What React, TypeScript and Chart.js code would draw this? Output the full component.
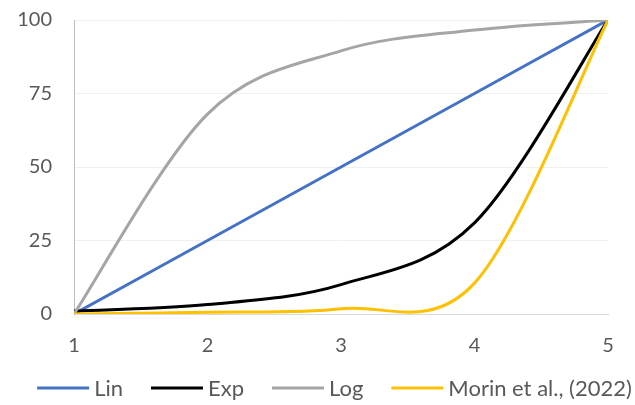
import React, { useEffect, useRef } from "react";
import { Chart, registerables } from "chart.js";

Chart.register(...registerables);

const xValues = [1, 2, 3, 4, 5];
const linValues = [0, 25, 50, 75, 100];
const expValues = [1, 3.2, 10, 31, 100];
const logValues = [0, 68, 89.5, 96.6, 100];
const morinValues = [0, 0.6, 1.8, 10.5, 100];

const seriesNames = ["Lin", "Exp", "Log", "Morin et al., (2022)"];
const seriesColors = ["#4472C4", "#000000", "#A5A5A5", "#FFC000"];
const yTicks = [0, 25, 50, 75, 100];

const FONT = "Lato, 'Open Sans', sans-serif";
const TEXT_COLOR = "#595959";

// Excel-like smoothing (Catmull-Rom Bezier control points in pixel space)
const smoothPlugin = {
  id: "excelSmooth",
  beforeDatasetDraw(chart: any, args: any) {
    const meta = args.meta;
    const pts = meta.data;
    const n = pts.length;
    for (let i = 0; i < n; i++) {
      const p = pts[i];
      const prev = pts[Math.max(0, i - 1)];
      const next = pts[Math.min(n - 1, i + 1)];
      const tx = (next.x - prev.x) / 6;
      const ty = (next.y - prev.y) / 6;
      p.cp1x = p.x - tx;
      p.cp1y = p.y - ty;
      p.cp2x = p.x + tx;
      p.cp2y = p.y + ty;
    }
    if (meta.dataset) meta.dataset._pointsUpdated = true;
  },
};

// Legend drawn in the Excel style: long line sample, text, wide gaps
const legendPlugin = {
  id: "excelLegend",
  afterDraw(chart: any) {
    const ctx = chart.ctx;
    const fontSize = 22;
    const lineLen = 52;
    const textGap = 5;
    const itemGap = 28;
    ctx.save();
    ctx.font = `${fontSize}px ${FONT}`;
    ctx.textBaseline = "middle";
    ctx.textAlign = "left";
    const widths = seriesNames.map((t) => ctx.measureText(t).width);
    const total =
      widths.reduce((a, b) => a + b, 0) +
      seriesNames.length * (lineLen + textGap) +
      (seriesNames.length - 1) * itemGap;
    const center = (chart.chartArea.left + chart.width) / 2 - 20;
    let x = center - total / 2;
    const y = chart.height - 17;
    seriesNames.forEach((name, i) => {
      ctx.strokeStyle = seriesColors[i];
      ctx.lineWidth = 3;
      ctx.beginPath();
      ctx.moveTo(x, y);
      ctx.lineTo(x + lineLen, y);
      ctx.stroke();
      x += lineLen + textGap;
      ctx.fillStyle = TEXT_COLOR;
      ctx.fillText(name, x, y + 1);
      x += widths[i] + itemGap;
    });
    ctx.restore();
  },
};

export default function App() {
  const ref = useRef<HTMLCanvasElement | null>(null);

  useEffect(() => {
    document.body.style.margin = "0";
    const ctx = ref.current;
    if (!ctx) return;
    const all = [linValues, expValues, logValues, morinValues];
    const datasets = all.map((vals, i) => ({
      label: seriesNames[i],
      data: vals.map((v, j) => ({ x: xValues[j], y: v })),
      borderColor: seriesColors[i],
      backgroundColor: seriesColors[i],
      borderWidth: 3,
      pointRadius: 0,
      tension: 0.4,
      fill: false,
      order: 4 - i,
    }));
    const chart = new Chart(ctx, {
      type: "line",
      data: { datasets },
      plugins: [smoothPlugin, legendPlugin],
      options: {
        animation: false,
        responsive: false,
        maintainAspectRatio: false,
        devicePixelRatio: 1,
        layout: { padding: { left: 0, right: 27, top: 20, bottom: 45 } },
        plugins: {
          tooltip: { enabled: false },
          legend: { display: false },
        },
        scales: {
          x: {
            type: "linear",
            min: 1,
            max: 5,
            grid: { display: false, drawTicks: false },
            border: { display: true, color: "#d9d9d9", width: 1 },
            ticks: {
              stepSize: 1,
              padding: 20,
              color: TEXT_COLOR,
              font: { family: FONT, size: 20 },
            },
            afterFit: (s: any) => {
              s.height = 46;
              s.paddingLeft = 0;
              s.paddingRight = 0;
            },
          },
          y: {
            type: "linear",
            min: 0,
            max: 100,
            grid: { color: "#f0f0f0", drawTicks: false },
            border: { display: true, color: "#bfbfbf", width: 1 },
            afterBuildTicks: (s: any) => {
              s.ticks = yTicks.map((v) => ({ value: v }));
            },
            ticks: {
              padding: 22,
              color: TEXT_COLOR,
              font: { family: FONT, size: 20 },
            },
            afterFit: (s: any) => {
              s.width = 74;
              s.paddingTop = 0;
              s.paddingBottom = 0;
            },
          },
        },
      },
    });
    return () => chart.destroy();
  }, []);

  return (
    <div style={{ position: "fixed", left: 0, top: 0, width: 635, height: 405, background: "#fff" }}>
      <canvas ref={ref} width={635} height={405} style={{ width: 635, height: 405 }} />
    </div>
  );
}
